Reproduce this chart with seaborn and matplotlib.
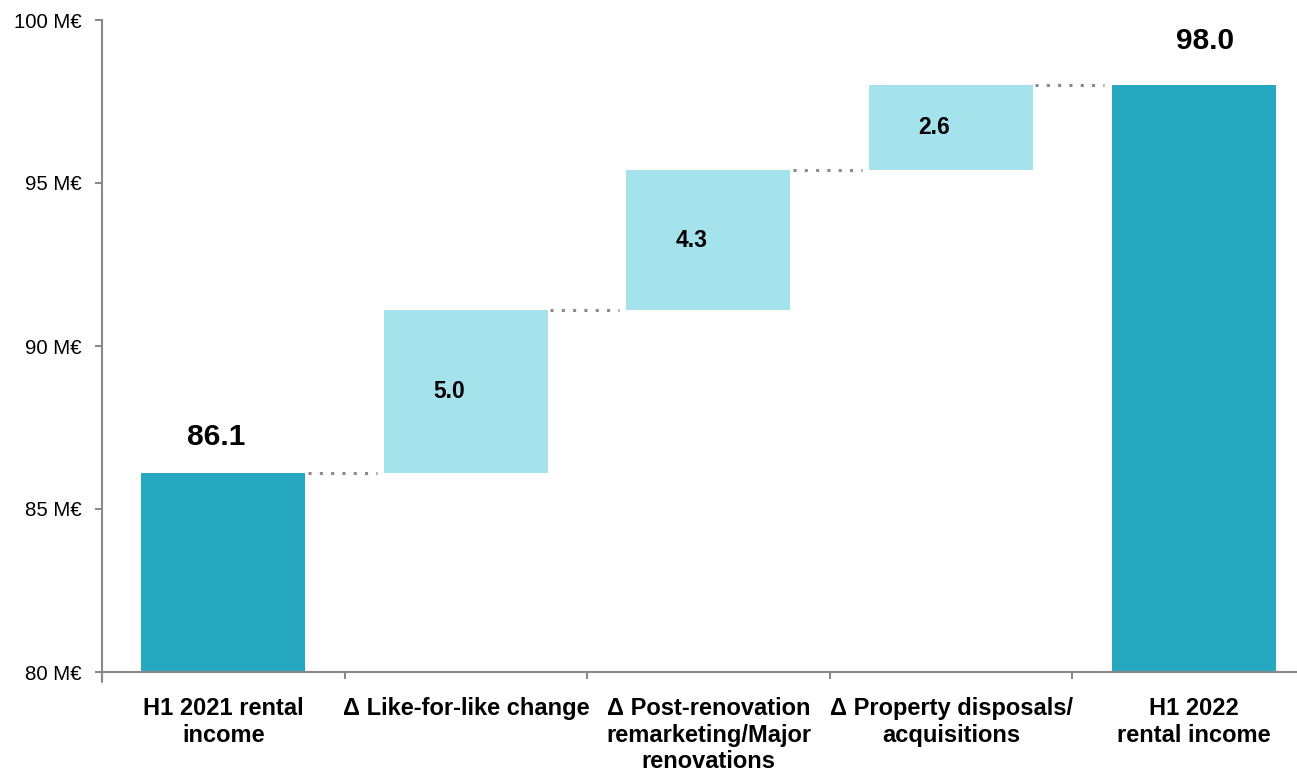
import numpy as np
import pandas as pd
import matplotlib
matplotlib.use("Agg")
import matplotlib.pyplot as plt
import seaborn as sns

# Rental income bridge, H1 2021 -> H1 2022 (M€)
categories = [
    "H1 2021 rental\nincome",
    "Δ Like-for-like change",
    "Δ Post-renovation\nremarketing/Major\nrenovations",
    "Δ Property disposals/\nacquisitions",
    "H1 2022\nrental income",
]
start_total = 86.1
changes = [5.0, 4.3, 2.6]
end_total = 98.0
y_ticks = [80, 85, 90, 95, 100]
y_tick_labels = [f"{v} M€" for v in y_ticks]

axis_floor = 80

# Floating bar geometry: totals start at the axis floor, changes float on the running sum
running = np.cumsum([start_total] + changes)
bottoms = [axis_floor] + list(running[:-1]) + [axis_floor]
heights = [start_total - axis_floor] + changes + [end_total - axis_floor]
kinds = ["total", "change", "change", "change", "total"]
df = pd.DataFrame({"category": categories, "height": heights,
                   "bottom": bottoms, "kind": kinds})

dark = "#27A8C1"
light = "#A4E2EC"
grey = "#8A8A8A"

sns.set_theme(style="white")
plt.rcParams["font.family"] = ["Liberation Sans", "DejaVu Sans"]

fig = plt.figure(figsize=(12.97, 7.75), dpi=100)
ax = fig.add_axes([102 / 1297, 103 / 775, 1 - 102 / 1297, 652 / 775])

bar_w = 0.676
sns.barplot(data=df, x="category", y="height", bottom=df["bottom"].values,
            color=dark, width=bar_w, errorbar=None, ax=ax,
            linewidth=0, edgecolor="none")
for patch, kind in zip(ax.patches, df["kind"]):
    patch.set_facecolor(dark if kind == "total" else light)

# Dotted connectors between consecutive bars
tops = [b + h for b, h in zip(bottoms, heights)]
for i in range(len(categories) - 1):
    ax.plot([i + bar_w / 2 + 0.01, i + 1 - bar_w / 2 - 0.03], [tops[i], tops[i]],
            color=grey, lw=2.2, linestyle=(0, (1, 2.7)), zorder=1)

# Value labels
ax.annotate(f"{start_total:.1f}", xy=(0, start_total), xytext=(-5, 26),
            textcoords="offset points", ha="center", va="center",
            fontsize=21.5, fontweight="bold", color="black")
ax.annotate(f"{end_total:.1f}", xy=(4, end_total), xytext=(8, 32),
            textcoords="offset points", ha="center", va="center",
            fontsize=21.5, fontweight="bold", color="black")
for i, (b, h) in enumerate(zip(bottoms[1:4], changes), start=1):
    ax.text(i - 0.07, b + h / 2, f"{h:.1f}", ha="center", va="center",
            fontsize=16.5, fontweight="bold", color="black")

# Axes styling
ax.set_yticks(y_ticks)
ax.set_yticklabels(y_tick_labels, fontsize=14.7, color="black")
ax.set_xticks(range(len(categories)))
ax.set_xticklabels(categories, fontsize=17, fontweight="bold", color="black",
                   linespacing=1.2)
ax.set_xticks([i + 0.5 for i in range(-1, len(categories))], minor=True)
ax.tick_params(axis="x", which="major", bottom=True, length=0, pad=18)
ax.tick_params(axis="x", which="minor", bottom=True, length=5, width=1.5,
               color=grey, direction="out")
ax.tick_params(axis="y", left=True, length=5, width=1.5, color=grey,
               direction="out", pad=10)
ax.set_ylim(axis_floor, 100)
ax.set_xlim(-0.5, 4.426)
ax.set_xlabel("")
ax.set_ylabel("")
for side in ["top", "right"]:
    ax.spines[side].set_visible(False)
for side in ["left", "bottom"]:
    ax.spines[side].set_color(grey)
    ax.spines[side].set_linewidth(1.5)
ax.spines["left"].set_zorder(3)
# left spine runs a little below the baseline
ax.plot([-0.5, -0.5], [axis_floor, axis_floor - 0.3], color=grey, lw=1.5,
        clip_on=False, zorder=3)

fig.savefig("out.png", dpi=100)
